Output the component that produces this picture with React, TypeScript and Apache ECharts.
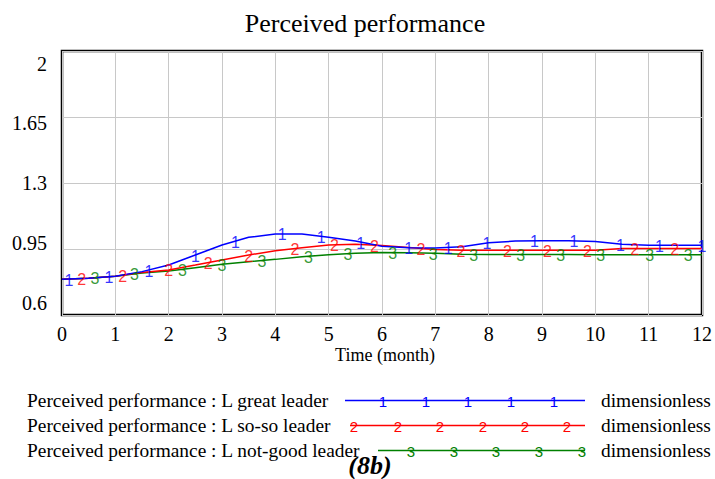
import React, { useEffect, useRef } from "react";
import * as echarts from "echarts";

const times = [0, 0.5, 1, 1.5, 2, 2.5, 3, 3.5, 4, 4.5, 5, 5.5, 6, 6.5, 7, 7.5, 8, 8.5, 9, 9.5, 10, 10.5, 11, 11.5, 12];
const greatLeader = [0.79, 0.795, 0.805, 0.83, 0.865, 0.918, 0.971, 1.012, 1.029, 1.029, 1.012, 0.992, 0.964, 0.956, 0.955, 0.962, 0.983, 0.992, 0.994, 0.994, 0.99, 0.975, 0.97, 0.97, 0.97];
const sosoLeader = [0.79, 0.795, 0.805, 0.826, 0.839, 0.865, 0.892, 0.918, 0.941, 0.957, 0.971, 0.975, 0.968, 0.958, 0.948, 0.944, 0.944, 0.944, 0.944, 0.944, 0.944, 0.952, 0.953, 0.953, 0.953];
const notGoodLeader = [0.79, 0.795, 0.805, 0.823, 0.833, 0.851, 0.869, 0.883, 0.895, 0.909, 0.92, 0.927, 0.932, 0.93, 0.927, 0.922, 0.921, 0.921, 0.921, 0.921, 0.92, 0.92, 0.92, 0.92, 0.919];

const greatMarkerTimes = [0.13, 0.88, 1.63, 2.5, 3.25, 4.13, 4.86, 5.6, 6.5, 7.24, 7.97, 8.86, 9.6, 10.47, 11.2, 12];
const greatMarkerValues = [0.79, 0.802, 0.838, 0.918, 0.99, 1.03, 1.018, 0.987, 0.956, 0.957, 0.982, 0.994, 0.994, 0.976, 0.97, 0.97];
const sosoMarkerTimes = [0.37, 1.14, 2.0, 2.74, 3.5, 4.37, 5.11, 5.86, 6.73, 7.48, 8.35, 9.1, 9.85, 10.74, 11.49];
const sosoMarkerValues = [0.793, 0.81, 0.839, 0.878, 0.918, 0.953, 0.972, 0.97, 0.953, 0.944, 0.944, 0.944, 0.944, 0.952, 0.953];
const notGoodMarkerTimes = [0.62, 1.36, 2.26, 3.0, 3.75, 4.62, 5.36, 6.2, 6.96, 7.72, 8.6, 9.35, 10.1, 11.02, 11.74];
const notGoodMarkerValues = [0.797, 0.818, 0.842, 0.869, 0.889, 0.912, 0.925, 0.931, 0.927, 0.921, 0.921, 0.921, 0.92, 0.92, 0.92];

const yTickValues = [0.6, 0.95, 1.3, 1.65, 2];
const yTickLabels = ["0.6", "0.95", "1.3", "1.65", "2"];
const xTickLabels = ["0", "1", "2", "3", "4", "5", "6", "7", "8", "9", "10", "11", "12"];

const seriesNames = [
  "Perceived performance : L great leader",
  "Perceived performance : L so-so leader",
  "Perceived performance : L not-good leader",
];
const seriesMarks = ["1", "2", "3"];
const seriesColors = ["#0000ff", "#ff0000", "#008000"];
const unitLabel = "dimensionless";
const titleText = "Perceived performance";
const xAxisName = "Time (month)";
const captionText = "(8b)";

const SERIF = "'Liberation Serif', 'Times New Roman', serif";
const SANS = "'Liberation Sans', Arial, sans-serif";

export default function App() {
  const ref = useRef<HTMLDivElement>(null);
  useEffect(() => {
    if (!ref.current) return;
    const chart = echarts.init(ref.current, null, { renderer: "svg" });
    const lineData = [greatLeader, sosoLeader, notGoodLeader];
    const markerT = [greatMarkerTimes, sosoMarkerTimes, notGoodMarkerTimes];
    const markerV = [greatMarkerValues, sosoMarkerValues, notGoodMarkerValues];

    const lineSeries = lineData.map((vals, i) => ({
      type: "line",
      name: seriesNames[i],
      data: times.map((t, j) => [t, vals[j]]),
      showSymbol: false,
      symbol: "none",
      lineStyle: { color: seriesColors[i], width: 1.5 },
      itemStyle: { color: seriesColors[i] },
      z: 3 - i + 2,
    }));
    const markerSeries = markerT.map((ts, i) => ({
      type: "scatter",
      name: seriesNames[i] + " marks",
      data: ts.map((t, j) => [t, markerV[i][j]]),
      symbol: "circle",
      symbolSize: 1,
      itemStyle: { color: "rgba(0,0,0,0)" },
      label: {
        show: true,
        position: "inside",
        formatter: seriesMarks[i],
        color: seriesColors[i],
        fontSize: 16,
        fontFamily: SANS,
        offset: [0, 1],
      },
      z: 10,
    }));

    const legendYs = [400, 425, 450];
    const legendLineStart = [345, 350, 378];
    const legendLineEnd = 585;
    const legendMarkX = [
      [383, 426, 468, 511, 554],
      [354, 398, 440, 483, 525, 567],
      [411, 454, 496, 539, 582],
    ];
    const graphics: any[] = [
      {
        type: "text",
        x: 365,
        y: 23,
        style: { text: titleText, font: `26px ${SERIF}`, fill: "#000", align: "center", verticalAlign: "middle" },
      },
      {
        type: "text",
        x: 385,
        y: 355,
        style: { text: xAxisName, font: `18px ${SERIF}`, fill: "#000", align: "center", verticalAlign: "middle" },
      },
      {
        type: "text",
        x: 370,
        y: 465,
        style: { text: captionText, font: `italic bold 26px ${SERIF}`, fill: "#000", align: "center", verticalAlign: "middle" },
        z: 20,
      },
    ];
    seriesNames.forEach((name, i) => {
      const y = legendYs[i];
      graphics.push({
        type: "text",
        x: 27,
        y,
        style: { text: name, font: `19.4px ${SERIF}`, fill: "#000", align: "left", verticalAlign: "middle" },
      });
      graphics.push({
        type: "line",
        shape: { x1: legendLineStart[i], y1: y + 0.5, x2: legendLineEnd, y2: y + 0.5 },
        style: { stroke: seriesColors[i], lineWidth: 1.5 },
      });
      legendMarkX[i].forEach((mx) => {
        graphics.push({
          type: "text",
          x: mx,
          y: y + 1,
          style: { text: seriesMarks[i], font: `15px ${SANS}`, fill: seriesColors[i], align: "center", verticalAlign: "middle" },
        });
      });
      graphics.push({
        type: "text",
        x: 601,
        y,
        style: { text: unitLabel, font: `19.4px ${SERIF}`, fill: "#000", align: "left", verticalAlign: "middle" },
      });
    });

    const yShift: Record<string, number[]> = {
      s0: [0, 0, 24, 0],
      s1: [0, 0, 12, 0],
      s2: [0, 0, 0, 0],
      s3: [12, 0, 0, 0],
      s4: [26, 0, 0, 0],
    };
    const rich: any = {};
    Object.keys(yShift).forEach((k) => {
      rich[k] = { fontSize: 20, fontFamily: SERIF, color: "#000", padding: yShift[k] };
    });

    chart.setOption({
      animation: false,
      backgroundColor: "#fff",
      grid: {
        left: 62,
        right: 11,
        top: 51,
        bottom: 164,
        show: true,
        borderColor: "#000",
        borderWidth: 2.5,
        backgroundColor: "transparent",
      },
      xAxis: {
        type: "value",
        min: 0,
        max: 12,
        interval: 1,
        axisLine: { show: false },
        axisTick: { show: false },
        splitLine: { show: true, lineStyle: { color: "#c8c8c8", width: 1 } },
        axisLabel: {
          margin: 9,
          fontSize: 20,
          fontFamily: SERIF,
          color: "#000",
          formatter: (v: number) => xTickLabels[Math.round(v)] ?? "",
        },
      },
      yAxis: {
        type: "value",
        min: 0.6,
        max: 2,
        interval: 0.35,
        axisLine: { show: false },
        axisTick: { show: false },
        splitLine: { show: true, lineStyle: { color: "#c8c8c8", width: 1 } },
        axisLabel: {
          margin: 15,
          fontSize: 20,
          fontFamily: SERIF,
          color: "#000",
          rich,
          formatter: (v: number) => {
            const i = yTickValues.findIndex((t) => Math.abs(t - v) < 1e-6);
            return i >= 0 ? `{s${i}|${yTickLabels[i]}}` : "";
          },
        },
      },
      series: [...lineSeries, ...markerSeries],
      graphic: graphics,
    });
    return () => chart.dispose();
  }, []);
  return (
    <div
      ref={ref}
      style={{ position: "fixed", left: 0, top: 0, width: 715, height: 479, background: "#fff" }}
    />
  );
}
